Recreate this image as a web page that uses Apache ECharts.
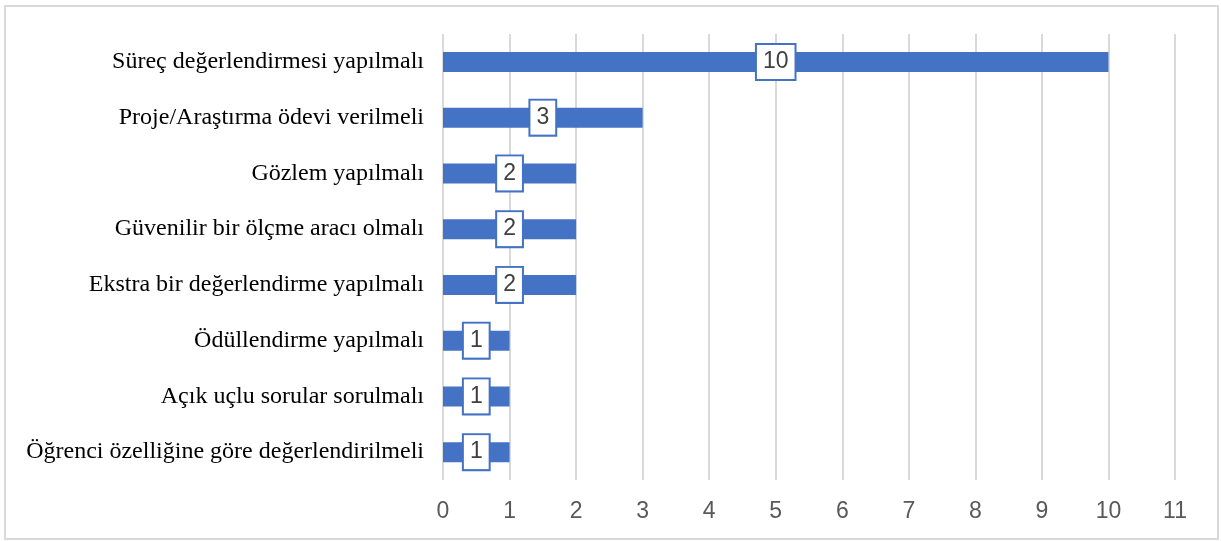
<!DOCTYPE html>
<html>
<head>
<meta charset="utf-8">
<script src="https://cdn.jsdelivr.net/npm/echarts@6/dist/echarts.min.js"></script>
<style>
  html, body { margin: 0; padding: 0; background: #fff; }
  #frame { position: absolute; left: 4px; top: 5px; width: 1211px; height: 531px; border: 2px solid #d9d9d9; box-sizing: content-box; }
  #chart { position: absolute; left: 0; top: 0; width: 1221px; height: 541px; }
</style>
</head>
<body>
<div id="frame"></div>
<div id="chart"></div>
<script>
// Suggestions for assessment, with the number of mentions for each
const categories = [
  'Süreç değerlendirmesi yapılmalı',
  'Proje/Araştırma ödevi verilmeli',
  'Gözlem yapılmalı',
  'Güvenilir bir ölçme aracı olmalı',
  'Ekstra bir değerlendirme yapılmalı',
  'Ödüllendirme yapılmalı',
  'Açık uçlu sorular sorulmalı',
  'Öğrenci özelliğine göre değerlendirilmeli'
];
const counts = [10, 3, 2, 2, 2, 1, 1, 1];
const axisMin = 0;
const axisMax = 11;
const axisStep = 1;

const chart = echarts.init(document.getElementById('chart'), null, { renderer: 'canvas' });
chart.setOption({
  animation: false,
  backgroundColor: 'transparent',
  grid: { left: 443, right: 46, top: 34, bottom: 61, containLabel: false },
  xAxis: {
    type: 'value',
    min: axisMin,
    max: axisMax,
    interval: axisStep,
    axisLine: { show: false },
    axisTick: { show: false },
    splitLine: { show: true, lineStyle: { color: '#d9d9d9', width: 2 } },
    axisLabel: {
      color: '#595959',
      fontFamily: '"Liberation Sans", Arial, sans-serif',
      fontSize: 23,
      margin: 20
    }
  },
  yAxis: {
    type: 'category',
    inverse: true,
    data: categories,
    axisLine: { show: false },
    axisTick: { show: false },
    splitLine: { show: false },
    axisLabel: {
      color: '#000',
      fontFamily: '"Liberation Serif", "Times New Roman", serif',
      fontSize: 24,
      margin: 19
    }
  },
  series: [{
    type: 'bar',
    data: counts,
    barWidth: 20,
    itemStyle: { color: '#4472C4' },
    label: {
      show: true,
      position: 'inside',
      color: '#404040',
      fontFamily: '"Liberation Sans", Arial, sans-serif',
      fontSize: 23,
      backgroundColor: '#fff',
      borderColor: '#4472C4',
      borderWidth: 2,
      padding: [6, 6, 5, 6]
    }
  }]
});
</script>
</body>
</html>
